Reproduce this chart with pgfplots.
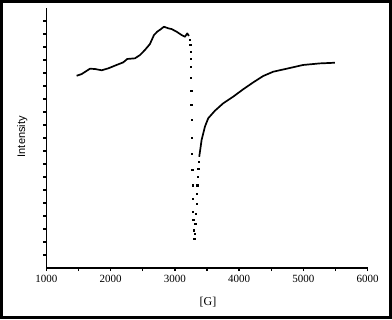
\documentclass[border=0pt]{standalone}
\usepackage{fontspec}
\setmainfont{Liberation Serif}
\newfontfamily\arialfont{Liberation Sans}
\usepackage{pgfplots}
\pgfplotsset{compat=1.18}
\begin{document}
\begin{tikzpicture}
\begin{axis}[name=ax,
  scale only axis, width=321.3pt, height=260pt,
  xmin=1000, xmax=6000, ymin=0, ymax=20,
  axis lines=left, axis line style={line width=1.3pt,-},
  xtick={1000,2000,...,6000}, minor xtick={1500,2500,3500,4500,5500},
  ytick={1,...,19}, yticklabels={},
  tick align=outside, tick style={line width=1.3pt,black},
  major tick length=3pt, minor tick length=3pt,
  xtick pos=bottom, ytick pos=left,
  /pgf/number format/assume math mode=true,
  /pgf/number format/set thousands separator={},
  xticklabel style={font=\fontsize{11}{13}\selectfont, yshift=-1pt},
  xlabel={[G]}, ylabel={Intensity},
  xlabel style={font=\fontsize{12}{14}\selectfont, at={(axis description cs:0.503,-0.131)}, anchor=center},
  ylabel style={font=\arialfont\fontsize{11}{13}\selectfont, at={(axis description cs:-0.075,0.505)}, anchor=center},
  clip=false,
]
\addplot[black, line width=1.7pt, line join=round] coordinates {
(1472,14.79) (1550,14.92) (1679,15.33) (1757,15.31) (1861,15.21) (1964,15.36)
(2094,15.62) (2197,15.82) (2259,16.08) (2379,16.13) (2457,16.38) (2534,16.77)
(2612,17.23) (2675,17.92) (2726,18.18) (2778,18.36) (2830,18.56) (2897,18.44)
(2949,18.38) (3027,18.18) (3105,17.92) (3157,17.79) (3193,18.05) (3219,17.85)
};
\addplot[black, only marks, mark=square*, mark size=0.6pt] coordinates {
(3235,17.54) (3239,17.15) (3245,16.64) (3245,16.13) (3250,15.49) (3250,14.67)
(3255,13.64) (3255,12.54) (3260,11.38) (3260,10.05) (3265,8.77) (3271,7.54)
(3276,6.38) (3276,5.36) (3281,4.33) (3286,3.69) (3291,2.92) (3301,2.28)
(3307,2.67) (3317,3.44) (3327,4.21) (3338,4.97) (3343,5.74) (3348,6.38)
(3358,7.03) (3364,7.67) (3372,8.20)
};
\addplot[black, line width=1.7pt, line join=round] coordinates {
(3379,8.56) (3416,9.85) (3467,10.87) (3519,11.52) (3623,12.10) (3752,12.67)
(3907,13.18) (4063,13.75) (4219,14.28) (4374,14.77) (4530,15.10) (4738,15.33)
(4996,15.62) (5256,15.74) (5489,15.79)
};
\end{axis}
\draw[line width=3pt] ([shift={(-44.8pt,-49.5pt)}]ax.south west) rectangle ([shift={(22.8pt,6.5pt)}]ax.north east);
\end{tikzpicture}
\end{document}
